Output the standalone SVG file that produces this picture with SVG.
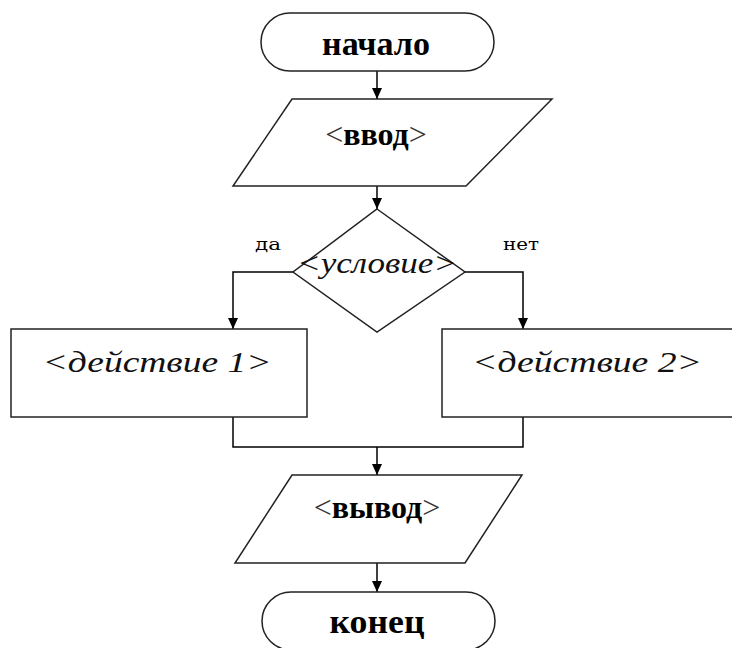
<svg xmlns="http://www.w3.org/2000/svg" width="732" height="648" viewBox="0 0 732 648">
<defs>
<style>
.shape{fill:#fff;stroke:#222;stroke-width:1.5}
.conn{fill:none;stroke:#000;stroke-width:1.5}
.head{fill:#000}
.b{font-family:"Liberation Serif","Times New Roman",serif;font-weight:bold;fill:#000}
.thin{font-family:"Liberation Serif","Times New Roman",serif;font-weight:normal;fill:#333}
.it{font-family:"Liberation Serif","Times New Roman",serif;font-style:italic;fill:#111}
.lbl{font-family:"DejaVu Serif","Liberation Serif",serif;font-size:17px;font-weight:normal;fill:#000}
</style>
</defs>
<g id="connectors">
<path class="conn" d="M377,71 L377,99"/>
<path class="conn" d="M377,186 L377,209"/>
<path class="conn" d="M293,272 L233,272 L233,329"/>
<path class="conn" d="M465,272 L523,272 L523,329"/>
<path class="conn" d="M233,417 L233,447 L523,447 L523,417"/>
<path class="conn" d="M377,447 L377,475"/>
<path class="conn" d="M377,563 L377,592"/>
<path class="head" d="M372,88 L382,88 L377,99 Z"/>
<path class="head" d="M372,198 L382,198 L377,209 Z"/>
<path class="head" d="M228,318 L238,318 L233,329 Z"/>
<path class="head" d="M518,318 L528,318 L523,329 Z"/>
<path class="head" d="M372,464 L382,464 L377,475 Z"/>
<path class="head" d="M372,581 L382,581 L377,592 Z"/>
<text class="lbl" x="268" y="250" text-anchor="middle" textLength="26" lengthAdjust="spacingAndGlyphs">да</text>
<text class="lbl" x="521" y="250" text-anchor="middle" textLength="36" lengthAdjust="spacingAndGlyphs">нет</text>
</g>
<g id="start">
<rect class="shape" x="261" y="13" width="233" height="58" rx="29" ry="29"/>
<text class="b" x="376" y="55" font-size="34" text-anchor="middle" textLength="108" lengthAdjust="spacingAndGlyphs">начало</text>
</g>
<g id="input">
<polygon class="shape" points="292,99 552,99 466,186 233,186"/>
<text x="376" y="145" text-anchor="middle" font-size="32"><tspan class="thin">&lt;</tspan><tspan class="b">ввод</tspan><tspan class="thin">&gt;</tspan></text>
</g>
<g id="condition">
<polygon class="shape" points="377,209 465,272 377,332 293,272"/>
<text class="it" x="377" y="273" font-size="30" text-anchor="middle" textLength="160" lengthAdjust="spacingAndGlyphs">&lt;условие&gt;</text>
</g>
<g id="action1">
<rect class="shape" x="11" y="329" width="296" height="88"/>
<text class="it" x="157" y="372" font-size="30" text-anchor="middle" textLength="229" lengthAdjust="spacingAndGlyphs">&lt;действие 1&gt;</text>
</g>
<g id="action2">
<rect class="shape" x="442" y="329" width="300" height="88"/>
<text class="it" x="587" y="372" font-size="30" text-anchor="middle" textLength="230" lengthAdjust="spacingAndGlyphs">&lt;действие 2&gt;</text>
</g>
<g id="output">
<polygon class="shape" points="292,475 522,475 465,563 235,563"/>
<text x="377" y="518" text-anchor="middle" font-size="32"><tspan class="thin">&lt;</tspan><tspan class="b">вывод</tspan><tspan class="thin">&gt;</tspan></text>
</g>
<g id="end">
<rect class="shape" x="262" y="592" width="233" height="58" rx="29" ry="29"/>
<text class="b" x="377" y="633" font-size="34" text-anchor="middle" textLength="95" lengthAdjust="spacingAndGlyphs">конец</text>
</g>
</svg>
